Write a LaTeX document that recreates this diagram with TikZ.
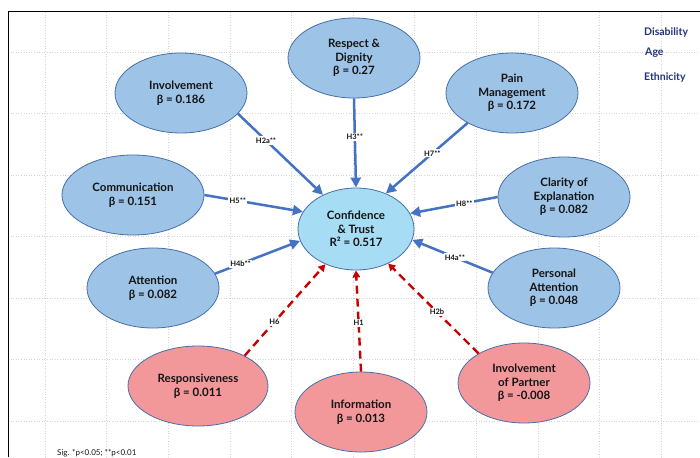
\documentclass[tikz,border=0pt]{standalone}
\usepackage{fontspec}
\setmainfont{Lato}
\usetikzlibrary{shapes.geometric,arrows.meta}
\definecolor{bluefill}{RGB}{157,195,230}
\definecolor{conffill}{RGB}{166,221,245}
\definecolor{redfill}{RGB}{243,152,154}
\definecolor{ellborder}{RGB}{70,110,170}
\definecolor{arrowblue}{RGB}{68,114,196}
\definecolor{arrowred}{RGB}{200,0,0}
\definecolor{navy}{RGB}{35,52,120}
\definecolor{txt}{RGB}{20,20,20}
\definecolor{gridgray}{RGB}{212,212,212}
\begin{document}
\begin{tikzpicture}[x=1pt,y=-1pt,
  ell/.style={ellipse, draw=ellborder, line width=0.8pt, inner sep=0pt, align=center,
    font=\bfseries\fontsize{11.5}{13.5}\selectfont, text=txt},
  bluenode/.style={ell, fill=bluefill, minimum width=132pt, minimum height=80pt},
  rednode/.style={ell, fill=redfill, minimum width=132pt, minimum height=80pt},
  barrow/.style={draw=arrowblue, line width=2.5pt, -{Triangle[length=10pt,width=10pt]}},
  rarrow/.style={draw=arrowred, line width=2.4pt, dash pattern=on 8pt off 5pt, -{Triangle[length=7pt,width=7.5pt]}},
  hlbl/.style={fill=white, inner sep=1.2pt, font=\bfseries\fontsize{7.5}{8}\selectfont, text=txt},
  gridline/.style={draw=gridgray, line width=0.6pt, dotted},
  side/.style={anchor=west, font=\bfseries\fontsize{10.5}{12}\selectfont, text=navy, inner sep=0pt},
]
\useasboundingbox (0,0) rectangle (700,457);
\fill[white] (0,0) rectangle (700,457);
% grid
\foreach \x in {45,106.6,168.2,229.8,291.4,353,414.6,476.2,537.8,599.4,661}
  \draw[gridline] (\x,12) -- (\x,457);
\foreach \y in {52,113.5,175,236.5,298,359.5,421}
  \draw[gridline] (8,\y) -- (700,\y);
% frame
\draw[black, line width=1pt] (8,457) -- (8,12) -- (700,12);

% nodes
\node[ell, fill=conffill, minimum width=116pt, minimum height=82pt] (conf) at (356,229) {Confidence\\\& Trust\\R² = 0.517};
\node[bluenode] (resp) at (354,58) {Respect \&\\Dignity\\β = 0.27};
\node[bluenode] (inv) at (181,93) {Involvement\\β = 0.186};
\node[bluenode] (pain) at (512,93) {Pain\\Management\\β = 0.172};
\node[bluenode, minimum width=142pt] (comm) at (133,195) {Communication\\β = 0.151};
\node[bluenode] (clar) at (564,197) {Clarity of\\Explanation\\β = 0.082};
\node[bluenode] (att) at (153,288) {Attention\\β = 0.082};
\node[bluenode] (patt) at (554,288) {Personal\\Attention\\β = 0.048};
\node[rednode, minimum width=140pt] (respn) at (198,386) {Responsiveness\\β = 0.011};
\node[rednode] (info) at (361,412) {Information\\β = 0.013};
\node[rednode] (part) at (524,383) {Involvement\\of Partner\\β = -0.008};

% connectors
\draw[barrow] (resp.-90) -- node[hlbl, pos=0.43] (l3) {H3**} (conf.90);
\draw[barrow] (inv.-20) -- node[hlbl, pos=0.33] (l2a) {H2a**} (conf.134);
\draw[barrow] (pain.214) -- node[hlbl, pos=0.43] (l7) {H7**} (conf.50);
\draw[barrow] (comm.0) -- node[hlbl, pos=0.34] (l5) {H5**} (conf.162);
\draw[barrow] (clar.180) -- node[hlbl, pos=0.38] (l8) {H8**} (conf.16);
\draw[barrow] (att.13) -- node[hlbl, pos=0.30] (l4b) {H4b**} (conf.192);
\draw[barrow] (patt.166) -- node[hlbl, pos=0.47] (l4a) {H4a**} (conf.-11);
\draw[rarrow] (respn.33) -- node[hlbl, pos=0.37] (l6) {H6} (conf.229);
\draw[rarrow] (info.90) -- node[hlbl, pos=0.48] (l1) {H1} (conf.-90);
\draw[rarrow] (part.147) -- node[hlbl, pos=0.46] (l2b) {H2b} (conf.-47);

% side texts
\node[side] (dis) at (644,32) {Disability};
\node[side] (age) at (645,53) {Age};
\node[side] (eth) at (644,77) {Ethnicity};
\node[anchor=base west, font=\fontsize{8}{9}\selectfont, text=txt, inner sep=0pt] (sig) at (57,455) {Sig. *p<0.05; **p<0.01};
\end{tikzpicture}
\end{document}
